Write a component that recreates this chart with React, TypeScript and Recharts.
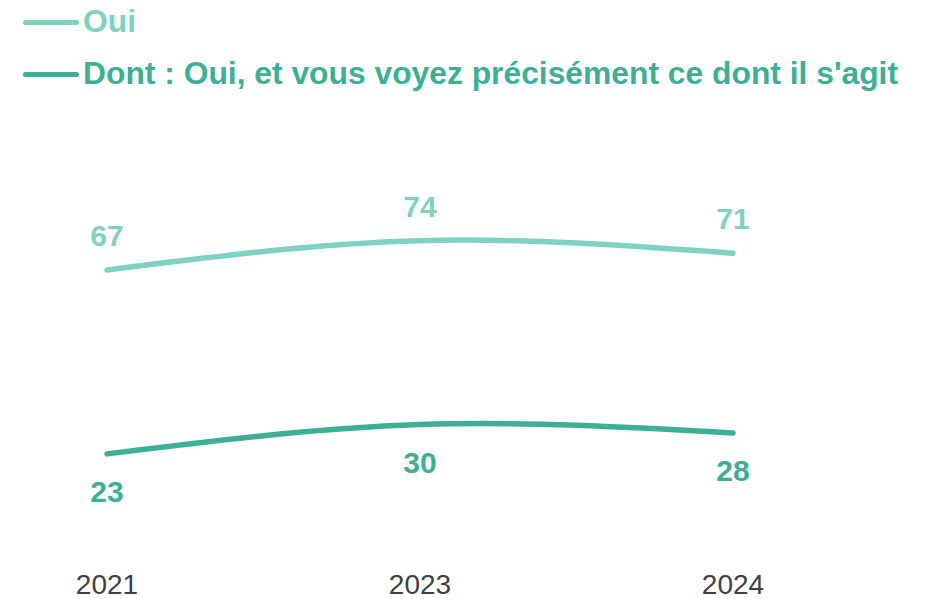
import React from "react";
import { LineChart, Line, XAxis, YAxis, LabelList } from "recharts";

const years = ["2021", "2023", "2024"];
const oui = [67, 74, 71];
const dont = [23, 30, 28];
const seriesNames = ["Oui", "Dont : Oui, et vous voyez précisément ce dont il s'agit"];
const seriesColors = ["#80d2c0", "#3daf92"];

const data = years.map((y, i) => ({ year: y, oui: oui[i], dont: dont[i] }));

const FONT = "'Liberation Sans', Arial, Helvetica, sans-serif";

export default function App() {
  return (
    <div style={{ position: "absolute", left: 0, top: 0, width: 930, height: 599, background: "#fff", fontFamily: FONT }}>
      <LineChart width={930} height={599} data={data} margin={{ top: 132, right: 197, bottom: 9, left: 107 }}>
        <XAxis
          dataKey="year"
          axisLine={false}
          tickLine={false}
          height={40}
          tickMargin={18}
          tick={{ fill: "#404040", fontSize: 28, fontFamily: FONT }}
          interval={0}
        />
        <YAxis hide domain={[0, 100]} />
        <Line
          type="natural"
          dataKey="oui"
          name={seriesNames[0]}
          stroke={seriesColors[0]}
          strokeWidth={5.5}
          strokeLinecap="round"
          dot={false}
          activeDot={false}
          isAnimationActive={false}
        >
          <LabelList dataKey="oui" position="top" offset={24} fill={seriesColors[0]} fontSize={30} fontWeight="bold" fontFamily={FONT} />
        </Line>
        <Line
          type="natural"
          dataKey="dont"
          name={seriesNames[1]}
          stroke={seriesColors[1]}
          strokeWidth={5.5}
          strokeLinecap="round"
          dot={false}
          activeDot={false}
          isAnimationActive={false}
        >
          <LabelList dataKey="dont" position="bottom" offset={27} fill={seriesColors[1]} fontSize={30} fontWeight="bold" fontFamily={FONT} />
        </Line>
      </LineChart>
      {seriesNames.map((name, i) => (
        <div
          key={name}
          style={{
            position: "absolute",
            left: 0,
            top: 5 + i * 52,
            height: 32,
            display: "flex",
            alignItems: "center",
            whiteSpace: "nowrap",
          }}
        >
          <div style={{ position: "absolute", left: 23, top: 15, width: 56, height: 5, borderRadius: 3, background: seriesColors[i] }} />
          <span
            style={{
              marginLeft: 83,
              fontSize: 31.8,
              lineHeight: "32px",
              fontWeight: "bold",
              color: seriesColors[i],
              fontFamily: FONT,
            }}
          >
            {name}
          </span>
        </div>
      ))}
    </div>
  );
}
